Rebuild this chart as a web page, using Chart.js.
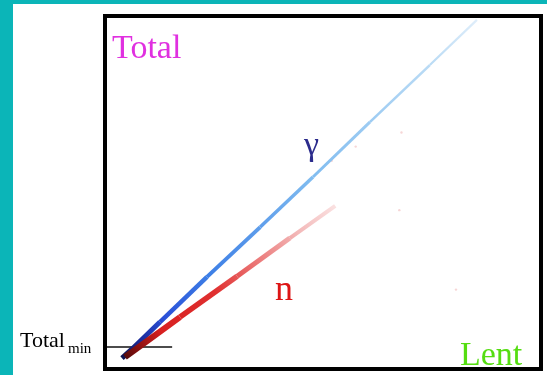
<!DOCTYPE html>
<html>
<head>
<meta charset="utf-8">
<script src="https://cdn.jsdelivr.net/npm/chart.js@4"></script>
<style>
  html, body { margin: 0; padding: 0; background: #fff; }
  #wrap { width: 547px; height: 375px; }
</style>
</head>
<body>
<div id="wrap"><canvas id="psd" width="547" height="375"></canvas></div>
<script>
// Lent vs Total, both in arbitrary units 0..100
const gammaLent = [3.9, 6.4, 12.6, 23.4, 35.6, 47.7, 60.8, 74.5, 85.3]
const gammaTotal = [3.1, 5.9, 13.3, 26.1, 40.2, 54.4, 70.0, 86.1, 98.9]
const neutronLent = [4.6, 10.3, 17.2, 30.3, 42.4, 52.8]
const neutronTotal = [3.4, 8.5, 14.7, 26.3, 37.1, 46.2]
const strayLent = [57.5, 68.0, 80.5, 67.5, 52.0]
const strayTotal = [63.0, 67.0, 22.5, 45.0, 59.0]
const totalMin = 6.2
const totalMinSpan = [0, 15.4]

// band thickness per segment, thinning out as the counts drop
const gammaWidths = [5, 5, 4.5, 4, 3.5, 3, 2.6, 2.2]
const neutronWidths = [6, 6, 5.5, 5, 4]

const toPoints = (xs, ys) => xs.map((x, i) => ({ x, y: ys[i] }))

// colour runs dark at the origin and fades out along the diagonal
function bandGradient(chart, stops) {
  const { ctx, chartArea, scales } = chart
  if (!chartArea) return null
  const g = ctx.createLinearGradient(
    scales.x.getPixelForValue(0), scales.y.getPixelForValue(0),
    scales.x.getPixelForValue(100), scales.y.getPixelForValue(100)
  )
  stops.forEach(([t, c]) => g.addColorStop(t, c))
  return g
}

const gammaStops = [
  [0.02, '#0a0a30'], [0.08, '#1a2a9a'], [0.14, '#2a50d8'],
  [0.25, '#3d7fe6'], [0.5, '#80bcf0'], [0.8, '#bcdcf5'], [0.93, '#e6f1fb'],
]
const neutronStops = [
  [0.02, '#300808'], [0.07, '#8a1010'], [0.12, '#d82020'],
  [0.24, '#e03030'], [0.32, '#ea7070'], [0.42, '#f3b8b8'], [0.5, '#fae0e0'],
]

const frame = {
  id: 'frame',
  beforeDraw: chart => {
    const ctx = chart.ctx
    ctx.save()
    ctx.fillStyle = '#fff'
    ctx.fillRect(0, 0, chart.width, chart.height)
    ctx.fillStyle = '#0bb5b8'
    ctx.fillRect(0, 0, chart.width, 4)
    ctx.fillRect(0, 0, 13, chart.height)
    ctx.restore()
  },
  beforeDatasetsDraw: chart => {
    chart.ctx.save()
    chart.ctx.filter = 'blur(0.6px)'
  },
  afterDatasetsDraw: chart => {
    chart.ctx.restore()
  },
  afterDraw: chart => {
    const ctx = chart.ctx
    const { left, top, right, bottom } = chart.chartArea
    const y = chart.scales.y
    ctx.save()
    ctx.strokeStyle = '#000'
    ctx.lineWidth = 4
    ctx.strokeRect(left, top, right - left, bottom - top)

    ctx.textAlign = 'left'
    ctx.textBaseline = 'alphabetic'
    ctx.font = '34px "Liberation Serif", serif'
    ctx.fillStyle = '#e030e0'
    ctx.fillText('Total', left + 7, top + 42)
    ctx.fillStyle = '#55dd11'
    ctx.fillText('Lent', right - 81, bottom - 4)
    ctx.fillStyle = '#2b2b8c'
    ctx.fillText('γ', 304, 155)
    ctx.font = '36px "Liberation Serif", serif'
    ctx.fillStyle = '#dd1515'
    ctx.fillText('n', 275, 300)

    const yMin = y.getPixelForValue(totalMin)
    ctx.fillStyle = '#000'
    ctx.font = '22px "Liberation Serif", serif'
    ctx.fillText('Total', 20, yMin)
    ctx.font = '15px "Liberation Serif", serif'
    ctx.fillText('min', 68, yMin + 6)
    ctx.restore()
  },
}

new Chart(document.getElementById('psd'), {
  type: 'scatter',
  data: {
    datasets: [
      {
        label: 'n',
        type: 'line',
        data: toPoints(neutronLent, neutronTotal),
        borderColor: c => bandGradient(c.chart, neutronStops),
        segment: { borderWidth: s => neutronWidths[s.p0DataIndex] },
        borderWidth: 5,
        tension: 0,
        pointRadius: 0,
      },
      {
        label: 'γ',
        type: 'line',
        data: toPoints(gammaLent, gammaTotal),
        borderColor: c => bandGradient(c.chart, gammaStops),
        segment: { borderWidth: s => gammaWidths[s.p0DataIndex] },
        borderWidth: 4,
        tension: 0,
        pointRadius: 0,
      },
      {
        label: 'stray',
        data: toPoints(strayLent, strayTotal),
        backgroundColor: '#f6d6d6',
        borderWidth: 0,
        pointRadius: 1.2,
      },
      {
        label: 'Total_min',
        type: 'line',
        data: toPoints(totalMinSpan, [totalMin, totalMin]),
        borderColor: '#111',
        borderWidth: 1.5,
        pointRadius: 0,
      },
    ],
  },
  plugins: [frame],
  options: {
    animation: false,
    responsive: false,
    layout: { padding: { left: 105, right: 6, top: 16, bottom: 6 } },
    scales: {
      x: { type: 'linear', min: 0, max: 100, display: false },
      y: { type: 'linear', min: 0, max: 100, display: false },
    },
    plugins: {
      legend: { display: false },
      tooltip: { enabled: false },
    },
  },
})
</script>
</body>
</html>
